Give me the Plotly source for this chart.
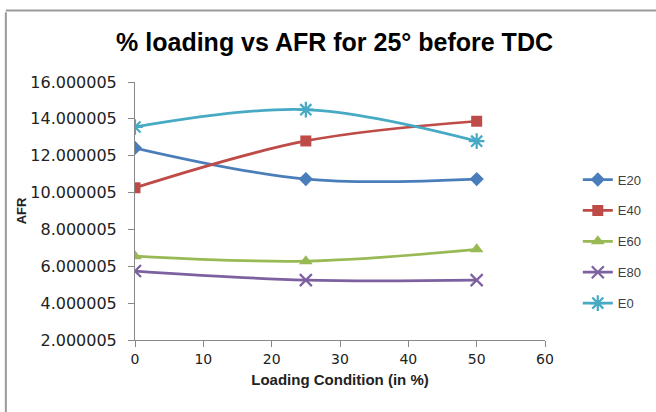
import plotly.graph_objects as go

# Loading condition (%) and air-fuel ratio per blend
loading = [0, 25, 50]
afr_e20 = [12.42, 10.73, 10.73]
afr_e40 = [10.26, 12.80, 13.87]
afr_e60 = [6.55, 6.28, 6.92]
afr_e80 = [5.74, 5.25, 5.25]
afr_e0 = [13.56, 14.50, 12.79]

series_names = ["E20", "E40", "E60", "E80", "E0"]
series_values = [afr_e20, afr_e40, afr_e60, afr_e80, afr_e0]
series_colors = ["#4A7EBB", "#BE4B48", "#98B954", "#7D60A0", "#46AAC5"]
series_symbols = ["diamond", "square", "triangle-up", "x-thin-open", "asterisk-open"]
series_sizes = [11, 11, 12, 12, 13]

y_ticks = [2.000005, 4.000005, 6.000005, 8.000005, 10.000005, 12.000005, 14.000005, 16.000005]
y_tick_text = ["2.000005", "4.000005", "6.000005", "8.000005", "10.000005",
               "12.000005", "14.000005", "16.000005"]
x_ticks = [0, 10, 20, 30, 40, 50, 60]

FONT = "Liberation Sans"
TICK_FONT = "DejaVu Sans"

fig = go.Figure()
for name, vals, col, sym, sz in zip(series_names, series_values, series_colors,
                                    series_symbols, series_sizes):
    fig.add_trace(go.Scatter(
        x=loading, y=vals, name=name, legendgroup=name,
        mode="lines+markers",
        line=dict(color=col, width=2.75, shape="spline", smoothing=1),
        marker=dict(symbol=sym, size=sz, color=col,
                    line=dict(color=col, width=2.2 if "open" in sym else 0)),
    ))

axis_col = "#888888"
fig.update_layout(
    width=656, height=412,
    margin=dict(l=135, r=111, t=82, b=72, autoexpand=False),
    paper_bgcolor="white", plot_bgcolor="white",
    showlegend=True,
    title=dict(text="% loading vs AFR for 25° before TDC",
               x=0.51, xanchor="center", y=0.897, yanchor="middle",
               font=dict(family=FONT, size=25, color="#000000", weight="bold")),
    legend=dict(x=1.08, xanchor="left", y=0.68, yanchor="top",
                font=dict(family=FONT, size=13, color="#404040"),
                tracegroupgap=11, bgcolor="rgba(0,0,0,0)"),
    xaxis=dict(range=[0, 60], tickvals=x_ticks, showgrid=False, zeroline=False,
               showline=True, linecolor=axis_col, linewidth=1,
               ticks="outside", ticklen=6, tickcolor=axis_col,
               tickfont=dict(family=TICK_FONT, size=14, color="#222222"),
               title=dict(text="Loading Condition (in %)", standoff=8,
                          font=dict(family=FONT, size=15, color="#222222", weight="bold"))),
    yaxis=dict(range=[2.000005, 16.000005], tickvals=y_ticks, ticktext=y_tick_text,
               showgrid=False, zeroline=False,
               showline=True, linecolor=axis_col, linewidth=1,
               ticks="outside", ticklen=6, tickcolor=axis_col, ticklabelstandoff=8,
               tickfont=dict(family=TICK_FONT, size=16, color="#222222"),
               title=dict(text="AFR", standoff=0,
                          font=dict(family=FONT, size=13, color="#222222", weight="bold"))),
)

# Outer chart frame (left and top edges)
fig.add_shape(type="line", xref="paper", yref="paper",
              x0=-0.315, x1=-0.315, y0=1.27, y1=-0.30,
              line=dict(color="#999999", width=2))
fig.add_shape(type="line", xref="paper", yref="paper",
              x0=-0.315, x1=1.30, y0=1.277, y1=1.277,
              line=dict(color="#999999", width=2))

fig.write_html("out.html")
